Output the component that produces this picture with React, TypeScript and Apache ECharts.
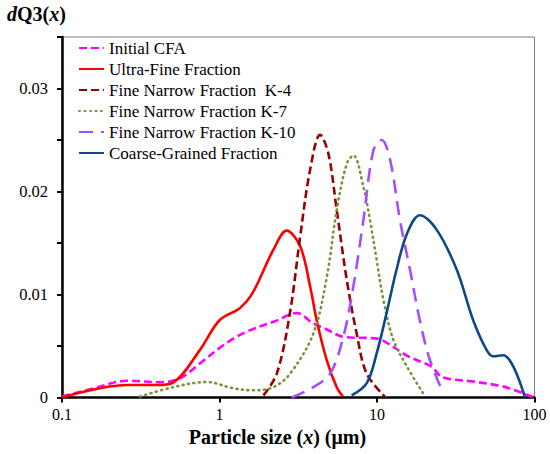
import React, { useEffect, useRef } from "react";
import * as echarts from "echarts";

const seriesNames = [
  "Initial CFA",
  "Ultra-Fine Fraction",
  "Fine Narrow Fraction  K-4",
  "Fine Narrow Fraction K-7",
  "Fine Narrow Fraction K-10",
  "Coarse-Grained Fraction",
];

const cfaX = [0.1, 0.16, 0.258, 0.419, 0.561, 0.75, 1.11, 1.49, 2.25, 3.09, 3.94, 4.8, 6.11, 9.5, 10.7, 15.8, 22.2, 25.8, 41.9, 61.9, 75.2, 98];
const cfaY = [0.0001, 0.0009, 0.00163, 0.00148, 0.00186, 0.0033, 0.0053, 0.0064, 0.0074, 0.0082, 0.0072, 0.0066, 0.0059, 0.00575, 0.0056, 0.004, 0.003, 0.002, 0.00153, 0.0011, 0.0007, 0.00003];

const ufX = [0.1, 0.258, 0.4, 0.507, 0.75, 1.0, 1.35, 1.63, 2.19, 2.67, 3.25, 3.76, 4.14, 4.8, 5.55, 6.08];
const ufY = [0, 0.00121, 0.00121, 0.00145, 0.0046, 0.0075, 0.0087, 0.0102, 0.0143, 0.0162, 0.0147, 0.0108, 0.0075, 0.0036, 0.001, 0.0001];

const k4X = [1.9, 2.31, 2.8, 3.25, 3.76, 4.35, 4.91, 5.55, 6.43, 7.43, 8.61, 11.2];
const k4Y = [0.0002, 0.0023, 0.0082, 0.0156, 0.0221, 0.0255, 0.0237, 0.0182, 0.0114, 0.0062, 0.0023, 0.0001];

const k7X = [0.313, 0.507, 0.83, 1.22, 1.63, 2.19, 2.8, 3.94, 4.8, 5.55, 6.43, 7.08, 8.19, 9.03, 9.96, 10.97, 12.7, 15.5, 20.2];
const k7Y = [0.0001, 0.001, 0.0015, 0.0009, 0.0007, 0.001, 0.0023, 0.0062, 0.0117, 0.0182, 0.0227, 0.0235, 0.0205, 0.0172, 0.0133, 0.0095, 0.0056, 0.003, 0.0001];

const k10X = [2.87, 3.94, 5.03, 6.11, 7.08, 8.19, 9.49, 10.7, 12.1, 14.0, 16.2, 18.7, 21.7, 26.4];
const k10Y = [0, 0.001, 0.0023, 0.0059, 0.0108, 0.0172, 0.024, 0.025, 0.0231, 0.0172, 0.0124, 0.0075, 0.0036, 0.0004];

const cgX = [6.9, 8.61, 9.96, 11.5, 13.3, 15.5, 18.7, 23.9, 32.1, 40.8, 49.7, 54.8, 63.4, 73.4, 87.1];
const cgY = [0.0002, 0.0014, 0.0043, 0.0082, 0.0124, 0.0159, 0.0177, 0.0163, 0.0124, 0.0075, 0.0046, 0.004, 0.0041, 0.003, 0];

const xTicks = [0.1, 1, 10, 100];
const yLabels = [0, 0.01, 0.02, 0.03];

const colors = ["#FF00FF", "#FF0000", "#990000", "#77933C", "#A050FF", "#0B4A86"];
const dashes: any[] = [[8, 4], "solid", [8, 4], [1, 4.5], [14, 8], "solid"];
const caps = ["butt", "butt", "butt", "round", "butt", "butt"];

const FONT = "Liberation Serif";

function zip(xs: number[], ys: number[]) {
  return xs.map((x, i) => [x, ys[i]]);
}

export default function App() {
  const ref = useRef<HTMLDivElement>(null);
  useEffect(() => {
    const chart = echarts.init(ref.current!, null, { renderer: "svg" });
    const data = [zip(cfaX, cfaY), zip(ufX, ufY), zip(k4X, k4Y), zip(k7X, k7Y), zip(k10X, k10Y), zip(cgX, cgY)];
    chart.setOption({
      animation: false,
      backgroundColor: "#ffffff",
      textStyle: { fontFamily: FONT },
      grid: {
        left: 62,
        right: 15.5,
        top: 37,
        bottom: 56.5,
        show: true,
        borderColor: "#7f7f7f",
        borderWidth: 1,
      },
      legend: {
        orient: "vertical",
        left: 78,
        top: 39.5,
        padding: 0,
        itemWidth: 25,
        itemHeight: 14,
        itemGap: 4,
        data: seriesNames.map((name) => ({ name, itemStyle: { opacity: 0 } })),
        textStyle: { fontFamily: FONT, fontSize: 17, color: "#000" },
      },
      xAxis: {
        type: "log",
        logBase: 10,
        min: 0.1,
        max: 100,
        splitLine: { show: false },
        minorTick: { show: false },
        axisLine: { onZero: false, lineStyle: { color: "#000", width: 2.5 } },
        axisTick: { show: true, length: 5, lineStyle: { color: "#000", width: 2 } },
        axisLabel: {
          fontFamily: FONT,
          fontSize: 16,
          color: "#000",
          margin: 9,
          formatter: (v: number) => {
            const t = xTicks.find((k) => Math.abs(Math.log10(k) - Math.log10(v)) < 1e-6);
            return t !== undefined ? String(t) : "";
          },
        },
      },
      yAxis: {
        type: "value",
        min: 0,
        max: 0.035,
        interval: 0.005,
        splitLine: { show: false },
        axisLine: { show: true, onZero: false, lineStyle: { color: "#000", width: 2.5 } },
        axisTick: { show: true, length: 5, lineStyle: { color: "#000", width: 2 } },
        axisLabel: {
          fontFamily: FONT,
          fontSize: 16.5,
          color: "#000",
          margin: 14,
          formatter: (v: number) => {
            const t = yLabels.find((k) => Math.abs(k - v) < 1e-9);
            return t !== undefined ? String(t) : "";
          },
        },
      },
      series: seriesNames.map((name, i) => ({
        name,
        type: "line",
        data: data[i],
        symbol: "none",
        smooth: 0.35,
        color: colors[i],
        lineStyle: { color: colors[i], width: 2.6, type: dashes[i], cap: caps[i] },
        z: 2 + i,
      })),
      graphic: [
        {
          type: "text",
          left: 7,
          top: 4,
          style: {
            text: "{i|d}{b|Q3(}{i|x}{b|)}",
            fontFamily: FONT,
            fontSize: 20,
            fill: "#000",
            rich: {
              i: { fontFamily: FONT, fontSize: 20, fontWeight: "bold", fontStyle: "italic", fill: "#000" },
              b: { fontFamily: FONT, fontSize: 20, fontWeight: "bold", fill: "#000" },
            },
          },
        },
        {
          type: "text",
          x: 277.5,
          y: 437,
          style: {
            text: "{b|Particle size (}{i|x}{b|) (μm)}",
            fontFamily: FONT,
            fontSize: 20,
            fill: "#000",
            align: "center",
            verticalAlign: "middle",
            rich: {
              i: { fontFamily: FONT, fontSize: 20, fontWeight: "bold", fontStyle: "italic", fill: "#000" },
              b: { fontFamily: FONT, fontSize: 20, fontWeight: "bold", fill: "#000" },
            },
          },
        },
      ],
    });
    return () => chart.dispose();
  }, []);
  return <div ref={ref} style={{ position: "fixed", left: 0, top: 0, width: 550, height: 454 }} />;
}
